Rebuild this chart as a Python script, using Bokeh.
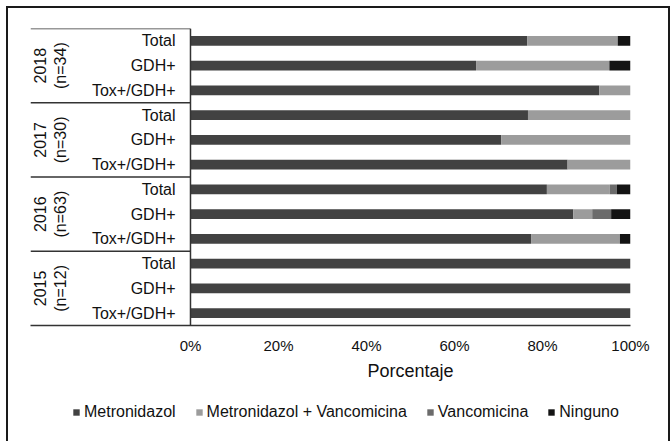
import math
from bokeh.plotting import figure
from bokeh.layouts import column
from bokeh.models import (FactorRange, Range1d, FixedTicker, Legend, LegendItem,
                          Title, ColumnDataSource)
from bokeh.core.properties import value
from bokeh.embed import file_html
from bokeh.resources import INLINE

# ---- data (bottom to top) ----
groups = ["2015 (n=12)", "2016 (n=63)", "2017 (n=30)", "2018 (n=34)"]
years = ["2015", "2016", "2017", "2018"]
ns = ["(n=12)", "(n=63)", "(n=30)", "(n=34)"]
subgroups = ["Tox+/GDH+", "GDH+", "Total"]

series = ["Metronidazol", "Metronidazol + Vancomicina", "Vancomicina", "Ninguno"]
colors = ["#424242", "#9c9c9c", "#6b6b6b", "#141414"]

metronidazol = [100, 100, 100, 77.4, 87.0, 81.0, 85.7, 70.6, 76.7, 92.9, 64.9, 76.5]
metro_vanco = [0, 0, 0, 20.2, 4.3, 14.3, 14.3, 29.4, 23.3, 7.1, 30.3, 20.6]
vancomicina = [0, 0, 0, 0, 4.3, 1.6, 0, 0, 0, 0, 0, 0]
ninguno = [0, 0, 0, 2.4, 4.4, 3.1, 0, 0, 0, 0, 4.8, 2.9]

ticks = [0, 20, 40, 60, 80, 100]
tick_labels = ["0%", "20%", "40%", "60%", "80%", "100%"]

FONT = "Liberation Sans"
TXT = "#111111"
EDGE = "#1a1a1a"
W = 671


def frame_edges(height, top=True):
    """CSS background lines that draw the outer box of the chart."""
    imgs, sizes, poss = [], [], []
    if top:
        imgs.append(f"linear-gradient({EDGE},{EDGE})")
        sizes.append(f"{W - 7}px 2px")
        poss.append("6px 6px")
    y0 = 6 if top else 0
    for x in (6, W - 3):
        imgs.append(f"linear-gradient({EDGE},{EDGE})")
        sizes.append(f"2px {height - y0}px")
        poss.append(f"{x}px {y0}px")
    return {"background-image": ", ".join(imgs),
            "background-size": ", ".join(sizes),
            "background-position": ", ".join(poss),
            "background-repeat": "no-repeat"}


factors = [(g, s) for g in groups for s in subgroups]
keys = ["m", "mv", "v", "n"]
source = ColumnDataSource(dict(y=factors, m=metronidazol, mv=metro_vanco,
                               v=vancomicina, n=ninguno))

x_left = -36.36
H1 = 390
p = figure(width=W, height=H1,
           x_range=Range1d(x_left, 100),
           y_range=FactorRange(*factors, factor_padding=0, group_padding=0),
           output_backend="svg", toolbar_location=None, y_axis_location=None,
           min_border_left=30, min_border_right=41, min_border_top=28,
           min_border_bottom=H1 - 325)
p.outline_line_color = None
p.grid.visible = False
p.border_fill_color = None
p.background_fill_color = None
p.styles = frame_edges(H1, top=True)

p.hbar_stack(keys, y="y", height=0.4, color=colors, source=source, line_color=None)

# axis
ax = p.xaxis[0]
ax.ticker = FixedTicker(ticks=ticks)
ax.major_label_overrides = {t: l for t, l in zip(ticks, tick_labels)}
ax.major_tick_line_color = None
ax.minor_tick_line_color = None
ax.axis_line_color = "#333333"
ax.axis_line_width = 1.5
ax.major_label_text_font = FONT
ax.major_label_text_font_size = "15px"
ax.major_label_text_color = TXT
ax.major_label_standoff = 5

# category frame lines
nsub = len(subgroups)
bounds = [nsub * (i + 1) for i in range(len(groups))]
p.segment(x0=[x_left] * len(bounds), x1=[0] * len(bounds), y0=bounds, y1=bounds,
          line_color="#333333", line_width=1.5)
p.segment(x0=[0], x1=[0], y0=[0], y1=[nsub * len(groups)],
          line_color="#333333", line_width=1.5)

# sub-category labels
p.text(x=[-3.4] * len(factors), y=factors, text=[f[1] for f in factors],
       text_align="right", text_baseline="middle", text_font=value(FONT),
       text_font_size="16px", text_color=TXT)
# group labels (rotated)
p.text(x=[-34.1] * len(groups), y=groups, text=years, angle=math.pi / 2,
       text_align="center", text_baseline="middle", text_font=value(FONT),
       text_font_size="16px", text_color=TXT)
p.text(x=[-29.6] * len(groups), y=groups, text=ns, angle=math.pi / 2,
       text_align="center", text_baseline="middle", text_font=value(FONT),
       text_font_size="16px", text_color=TXT)

# axis title (centred on the 0-100% span)
p.add_layout(Title(text="Porcentaje", align="left", offset=337, text_font=FONT,
                   text_font_size="18px", text_font_style="normal",
                   text_color=TXT, standoff=4), "below")

# ---- legend strip (its frame is aligned with the chart frame) ----
H2 = 441 - H1
lf = figure(width=W, height=H2, x_range=Range1d(0, 1), y_range=Range1d(0, 1),
            output_backend="svg", toolbar_location=None,
            x_axis_location=None, y_axis_location=None,
            min_border_left=0, min_border_right=0, min_border_top=0,
            min_border_bottom=0)
lf.outline_line_color = None
lf.grid.visible = False
lf.border_fill_color = None
lf.background_fill_color = None
lf.styles = frame_edges(H2, top=False)
# swatch-only renderers (placed outside the visible range)
leg_r = [lf.hbar(y=[-5], right=[1], height=0.5, color=c, line_color=None) for c in colors]
legend = Legend(items=[LegendItem(label=s, renderers=[r]) for s, r in zip(series, leg_r)],
                location=(42, H2 - 31), orientation="horizontal",
                glyph_width=8, glyph_height=8, label_standoff=4, spacing=19,
                padding=0, margin=0, border_line_alpha=0, background_fill_alpha=0,
                label_text_font=FONT, label_text_font_size="16px",
                label_text_color=TXT)
lf.add_layout(legend)

layout = column(p, lf, spacing=0)
open("out.html", "w").write(file_html(layout, INLINE))
